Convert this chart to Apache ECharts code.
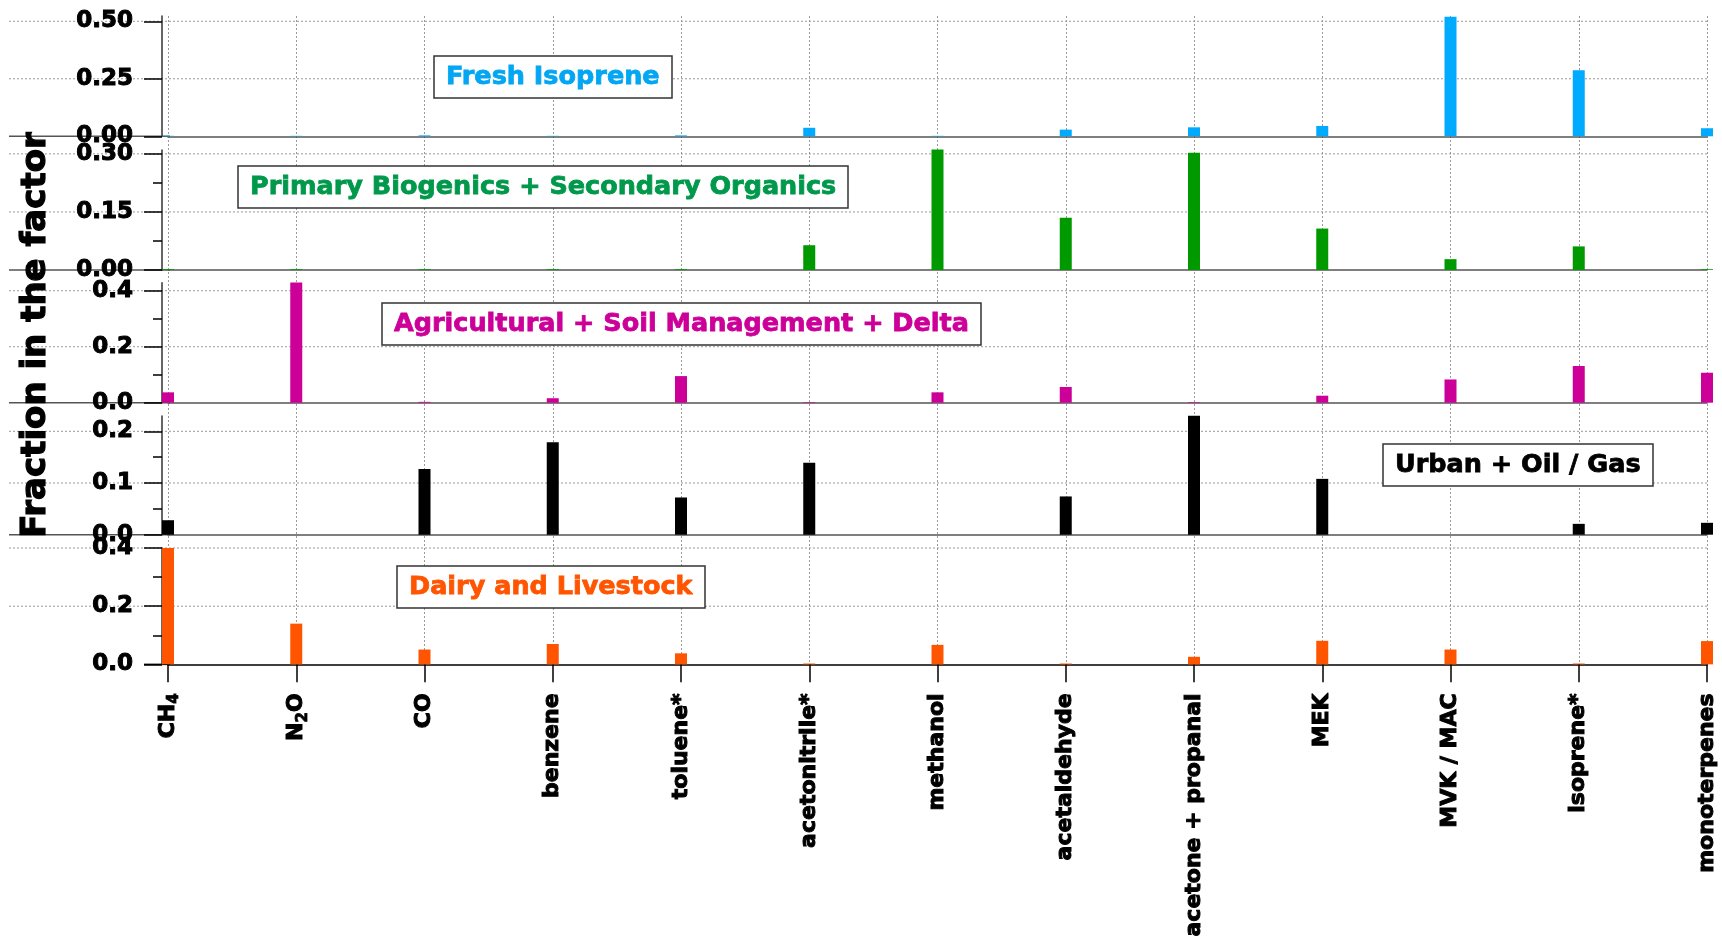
<!DOCTYPE html>
<html><head><meta charset="utf-8">
<script src="https://cdn.jsdelivr.net/npm/echarts@6/dist/echarts.min.js"></script>
<style>html,body{margin:0;padding:0;background:#fff}#c{width:1722px;height:940px}</style>
</head><body><div id="c"></div>
<script>
// ---- data ----
const categories = ['CH4','N2O','CO','benzene','toluene*','acetonitrile*','methanol','acetaldehyde','acetone + propanal','MEK','MVK / MAC','isoprene*','monoterpenes'];
const freshIsoprene     = [0.002,0.002,0.004,0.002,0.004,0.037,0.002,0.029,0.039,0.045,0.52,0.287,0.035];
const biogenicSecondary = [0.002,0.002,0.002,0.002,0.002,0.064,0.311,0.135,0.303,0.107,0.028,0.061,0.002];
const agriculturalSoil  = [0.037,0.429,0.003,0.016,0.095,0.002,0.037,0.056,0.002,0.025,0.083,0.131,0.107];
const urbanOilGas       = [0.028,0,0.127,0.179,0.072,0.139,0,0.074,0.230,0.108,0,0.021,0.023];
const dairyLivestock    = [0.40,0.14,0.051,0.070,0.038,0.003,0.067,0.003,0.026,0.081,0.051,0.003,0.080];

const panelNames = ['Fresh Isoprene','Primary Biogenics + Secondary Organics','Agricultural + Soil Management + Delta','Urban + Oil / Gas','Dairy and Livestock'];
const majorTicks = [[0,0.25,0.5],[0,0.15,0.3],[0,0.2,0.4],[0,0.1,0.2],[0,0.2,0.4]];
const minorTicks = [[],[0.075,0.225],[0.1,0.3],[0.05,0.15],[0.1,0.3]];
const axisMax = [0.523,0.31,0.4286,0.2296,0.40];
const tickDecimals = [2,2,1,1,1];
const yTitle = 'Fraction in the factor';

// ---- layout / style ----
const seriesData = [freshIsoprene, biogenicSecondary, agriculturalSoil, urbanOilGas, dairyLivestock];
const barColors = ['#00aaff','#009900','#cc0099','#000000','#ff5500'];
const textColors = ['#03a6f2','#00994c','#cc0099','#000000','#ff5500'];
const panelTop = [16,150,282.7,416,548];
const panelHeight = [120.3,120,120,118.7,120];
const boxPos = [[434,56],[238,166],[382,303],[1383,444],[397,566]];
const FONT = 'DejaVu Sans';
const GRID_LEFT = 168, GRID_RIGHT = 15;

const chart = echarts.init(document.getElementById('c'), null, {renderer:'canvas'});

const grids = [], xAxes = [], yAxes = [], series = [], titles = [];
for (let i = 0; i < 5; i++) {
  grids.push({left: GRID_LEFT, right: GRID_RIGHT, top: panelTop[i], height: panelHeight[i]});
  const isBottom = i === 4;
  xAxes.push({
    type:'category', gridIndex:i, data:categories, boundaryGap:false, position:'bottom',
    axisLine:{show:true, onZero:false, lineStyle:{color: isBottom ? '#000' : '#555', width:1.5}},
    axisTick:{show:isBottom, length:18, lineStyle:{color:'#000', width:1.5}},
    axisLabel:{
      show:isBottom, interval:0, rotate:90, margin:29,
      formatter: function(v){
        if (v === 'CH4') return '{n|CH}{s|4}';
        if (v === 'N2O') return '{n|N}{s|2}{n|O}';
        return '{n|' + v + '}';
      },
      rich:{
        n:{fontFamily:FONT, fontWeight:'bold', fontSize:22, color:'#000', lineHeight:28, verticalAlign:'middle', textBorderColor:'#000', textBorderWidth:1},
        s:{fontFamily:FONT, fontWeight:'bold', fontSize:15, color:'#000', lineHeight:13, verticalAlign:'bottom', textBorderColor:'#000', textBorderWidth:0.8}
      }
    },
    splitLine:{show:false}
  });
  yAxes.push({
    type:'value', gridIndex:i, position:'left', min:0, max:axisMax[i], interval:majorTicks[i][1], offset:6,
    axisLine:{show:true, lineStyle:{color:'#333', width:1.5}},
    axisTick:{show:true, length:18, customValues:majorTicks[i], lineStyle:{color:'#000', width:1.5}},
    axisLabel:{
      customValues:majorTicks[i], margin:29,
      fontFamily:FONT, fontWeight:'bold', fontSize:23, color:'#000',
      textBorderColor:'#000', textBorderWidth:1,
      formatter:(v)=>Number(v).toFixed(tickDecimals[i])
    },
    splitLine:{show:false}
  });
  series.push({
    type:'bar', xAxisIndex:i, yAxisIndex:i, data:seriesData[i], barWidth:12, clip:false,
    itemStyle:{color:barColors[i]}, silent:true, z:3
  });
  titles.push({
    text:panelNames[i], left:boxPos[i][0], top:boxPos[i][1], padding:[6,12],
    borderColor:'#333', borderWidth:1.5, backgroundColor:'#fff', z:8,
    textStyle:{color:textColors[i], fontFamily:FONT, fontWeight:'bold', fontSize:25.5, lineHeight:30,
      textBorderColor:textColors[i], textBorderWidth:0.8}
  });
}
// minor tick axes (same side as the major axis)
for (let i = 0; i < 5; i++) {
  yAxes.push({
    type:'value', gridIndex:i, position:'left', min:0, max:axisMax[i], offset:6,
    axisLine:{show:false},
    axisTick:{show:minorTicks[i].length > 0, length:9, customValues:minorTicks[i], lineStyle:{color:'#000', width:1.5}},
    axisLabel:{show:false}, splitLine:{show:false}
  });
}
// background grid for continuous vertical dotted lines
grids.push({left: GRID_LEFT, right: GRID_RIGHT, top: panelTop[0], bottom: 940 - (panelTop[4] + panelHeight[4])});
xAxes.push({
  type:'category', gridIndex:5, data:categories, boundaryGap:false,
  axisLine:{show:false}, axisTick:{show:false}, axisLabel:{show:false},
  splitLine:{show:true, interval:0, lineStyle:{color:'#999', width:1, type:[2,2]}}
});
yAxes.push({type:'value', gridIndex:5, min:0, max:1, show:false});

chart.setOption({
  animation:false,
  backgroundColor:'#fff',
  title:titles,
  grid:grids,
  xAxis:xAxes,
  yAxis:yAxes,
  series:series
});

// full-width horizontal lines (grid lines extend past the axis as in the original)
const graphics = [];
for (let i = 0; i < 5; i++) {
  majorTicks[i].forEach(v => {
    const y = chart.convertToPixel({yAxisIndex:i}, v);
    if (v === 0) {
      graphics.push({type:'line', silent:true, z:-1,
        shape:{x1: i < 4 ? 9 : 144, y1:y, x2:GRID_LEFT + 2, y2:y},
        style:{stroke: i < 4 ? '#555' : '#000', lineWidth:1.5}});
    } else {
      graphics.push({type:'line', silent:true, z:-1,
        shape:{x1:9, y1:y, x2:1722 - GRID_RIGHT, y2:y},
        style:{stroke:'#999', lineWidth:1, lineDash:[2,2]}});
    }
  });
}
graphics.push({type:'text', x:36, y:335, rotation:Math.PI/2, silent:true, z:5,
  style:{text:yTitle, font:'bold 34px "DejaVu Sans"', fill:'#000', stroke:'#000', lineWidth:1.2, align:'center', verticalAlign:'middle'}});
chart.setOption({graphic:graphics});
</script></body></html>
